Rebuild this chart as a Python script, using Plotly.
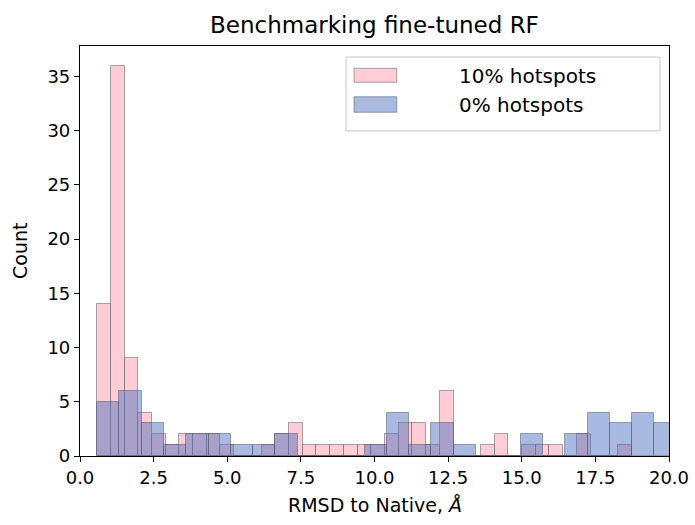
import plotly.graph_objects as go

# Histogram counts per bin (RMSD to native structure, Å)
pink_label = "10% hotspots"
pink_start = 0.58
pink_width = 0.4655
pink_counts = [14, 36, 9, 4, 2, 1, 2, 2, 2, 1, 0, 0, 1, 2, 3, 1, 1, 1, 1, 1,
               1, 2, 3, 3, 1, 6, 0, 0, 1, 2, 0, 1, 1, 1, 0, 2, 0, 0, 1]

blue_label = "0% hotspots"
blue_start = 0.58
blue_width = 0.757
blue_counts = [5, 6, 3, 1, 2, 2, 1, 1, 2, 0, 0, 0, 1, 4, 1, 3, 1, 0, 0, 2,
               0, 2, 4, 3, 4, 3]

x_ticks = [0, 2.5, 5, 7.5, 10, 12.5, 15, 17.5, 20]
y_ticks = [0, 5, 10, 15, 20, 25, 30, 35]

PINK = "rgba(255,192,203,0.8)"
BLUE = "rgba(75,110,190,0.48)"
EDGE = "rgba(80,80,100,0.5)"
FONT = "DejaVu Sans"

pink_left = [pink_start + i * pink_width for i in range(len(pink_counts))]
blue_left = [blue_start + i * blue_width for i in range(len(blue_counts))]

fig = go.Figure()
fig.add_trace(go.Bar(x=pink_left, y=pink_counts, width=pink_width, offset=0,
                     marker=dict(color=PINK, line=dict(color=EDGE, width=1)),
                     name=pink_label, showlegend=False))
fig.add_trace(go.Bar(x=blue_left, y=blue_counts, width=blue_width, offset=0,
                     marker=dict(color=BLUE, line=dict(color=EDGE, width=1)),
                     name=blue_label, showlegend=False))

W, H = 695, 525
L, R, T, B = 80, 26, 46, 69

fig.update_layout(
    width=W, height=H,
    margin=dict(l=L, r=R, t=T, b=B, pad=0),
    paper_bgcolor="white", plot_bgcolor="white",
    barmode="overlay", bargap=0,
    font=dict(family=FONT, color="black", size=18),
    xaxis=dict(range=[0, 20], tickvals=x_ticks, tickformat=".1f",
               showline=True, mirror=True, linecolor="black", linewidth=1.2,
               ticks="outside", ticklen=5, tickcolor="black", automargin=False,
               showgrid=False, zeroline=False, tickfont=dict(size=18)),
    yaxis=dict(range=[0, 37.8], tickvals=y_ticks,
               showline=True, mirror=True, linecolor="black", linewidth=1.2,
               ticks="outside", ticklen=5, tickcolor="black", automargin=False,
               showgrid=False, zeroline=False, tickfont=dict(size=18)),
)

# Title and axis labels
fig.add_annotation(text="Benchmarking fine-tuned RF", xref="paper", yref="paper",
                   x=0.5, y=1, yanchor="middle", yshift=21, showarrow=False,
                   font=dict(size=23))
fig.add_annotation(text="RMSD to Native, <i>Å</i>", xref="paper", yref="paper",
                   x=0.5, y=0, yanchor="middle", yshift=-49, showarrow=False,
                   font=dict(size=19))
fig.add_annotation(text="Count", xref="paper", yref="paper", textangle=-90,
                   x=0, y=0.5, xanchor="center", xshift=-60, showarrow=False,
                   font=dict(size=19))

# Legend box drawn with shapes
fig.add_shape(type="rect", xref="paper", yref="paper",
              x0=0.4516, x1=0.9847, y0=0.793, y1=0.973,
              line=dict(color="rgba(200,200,200,1)", width=1),
              fillcolor="rgba(255,255,255,0.8)", layer="above")
for (y0, y1, col, lab, ty) in [(0.9115, 0.9456, PINK, pink_label, 0.9268),
                               (0.8383, 0.8763, BLUE, blue_label, 0.8561)]:
    fig.add_shape(type="rect", xref="paper", yref="paper",
                  x0=0.4652, x1=0.5377, y0=y0, y1=y1,
                  line=dict(color=EDGE, width=1), fillcolor=col, layer="above")
    fig.add_annotation(text=lab, xref="paper", yref="paper", x=0.6396, y=ty,
                       xanchor="left", yanchor="middle", showarrow=False,
                       font=dict(size=20))

fig.write_html("out.html")
